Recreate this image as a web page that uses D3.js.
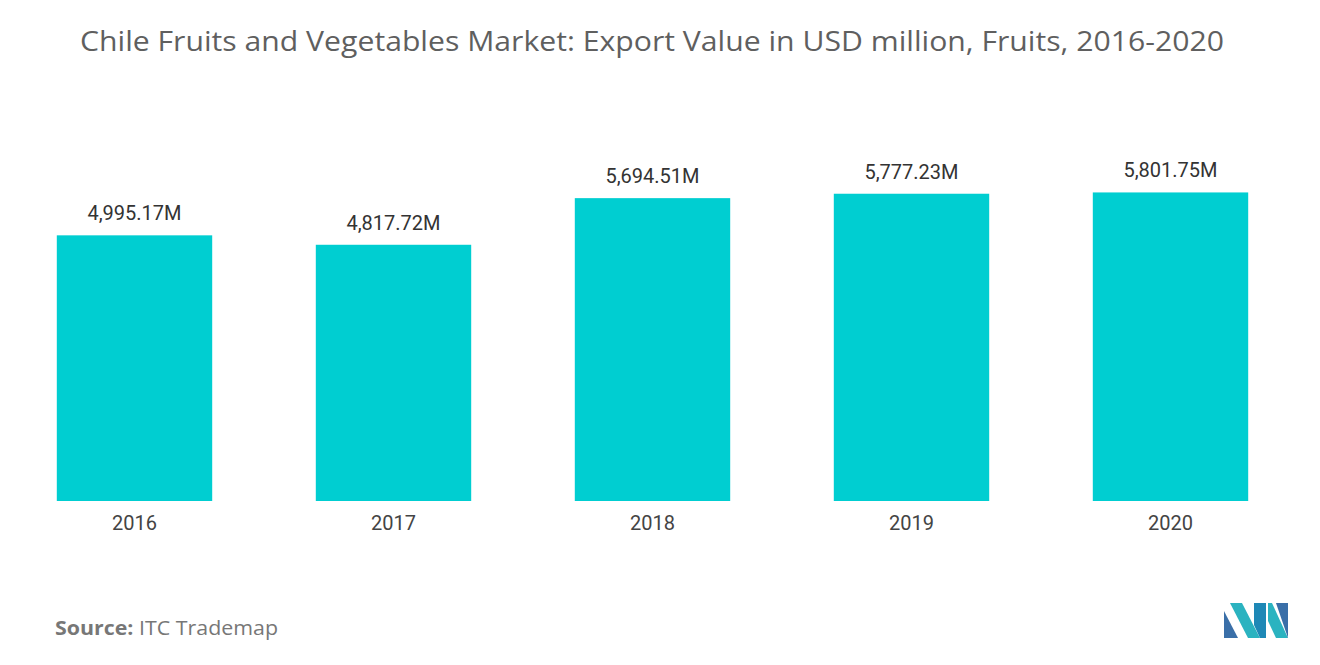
<!DOCTYPE html>
<html><head><meta charset="utf-8">
<script src="https://cdn.jsdelivr.net/npm/d3@7"></script>
<style>body{margin:0;background:#fff}</style>
</head><body>
<svg id="c" width="1320" height="665"></svg>
<script>
const years = ["2016","2017","2018","2019","2020"];
const values = [4995.17, 4817.72, 5694.51, 5777.23, 5801.75];
const labels = ["4,995.17M","4,817.72M","5,694.51M","5,777.23M","5,801.75M"];

const svg = d3.select("#c");
const x = d3.scaleBand().domain(years).range([5,1300]).paddingInner(0.4).paddingOuter(0.2);
const y = d3.scaleLinear().domain([0,9420]).range([501,0]);

svg.append("text").attr("x",80).attr("y",51)
  .attr("font-family","'Open Sans', Lato, sans-serif").attr("font-size",27).attr("fill","#5f5f5f")
  .attr("textLength",1144).attr("lengthAdjust","spacingAndGlyphs")
  .text("Chile Fruits and Vegetables Market: Export Value in USD million, Fruits, 2016-2020");

svg.selectAll("rect.bar").data(values).join("rect").attr("class","bar")
  .attr("x",(d,i)=>x(years[i])).attr("width",x.bandwidth())
  .attr("y",d=>y(d)).attr("height",d=>y(0)-y(d)).attr("fill","#00CED1");

svg.selectAll("text.lbl").data(values).join("text").attr("class","lbl")
  .attr("x",(d,i)=>x(years[i])+x.bandwidth()/2).attr("y",d=>y(d)-15)
  .attr("text-anchor","middle").attr("font-family","Roboto, sans-serif").attr("font-size",20).attr("fill","#333")
  .text((d,i)=>labels[i]);

const ax = svg.append("g").attr("transform","translate(0,501)").call(d3.axisBottom(x).tickSize(0).tickPadding(15));
ax.select(".domain").remove();
ax.selectAll("text").attr("font-family","Roboto, sans-serif").attr("font-size",20).attr("fill","#444");

const s = svg.append("text").attr("x",55).attr("y",635).attr("font-family","'Open Sans', sans-serif").attr("font-size",20).attr("fill","#777")
  .attr("textLength",223).attr("lengthAdjust","spacingAndGlyphs");
s.append("tspan").attr("font-weight","bold").text("Source:");
s.append("tspan").text("  ITC Trademap");

const g = svg.append("g").attr("transform","translate(1224,603)");
g.append("polygon").attr("points","0,35 0,8 14,35").attr("fill","#3a6fa8");
g.append("polygon").attr("points","6,0 18,0 36,35 24,35").attr("fill","#2bb3c0");
g.append("polygon").attr("points","30,22 30,0 42,0 42,35 36,35").attr("fill","#1e88b6");
g.append("polygon").attr("points","48,0 64,35 52,35 44,18 44,0").attr("fill","#2bb3c0");
g.append("polygon").attr("points","52,0 64,0 64,35").attr("fill","#3a6fa8");
</script>
</body></html>
